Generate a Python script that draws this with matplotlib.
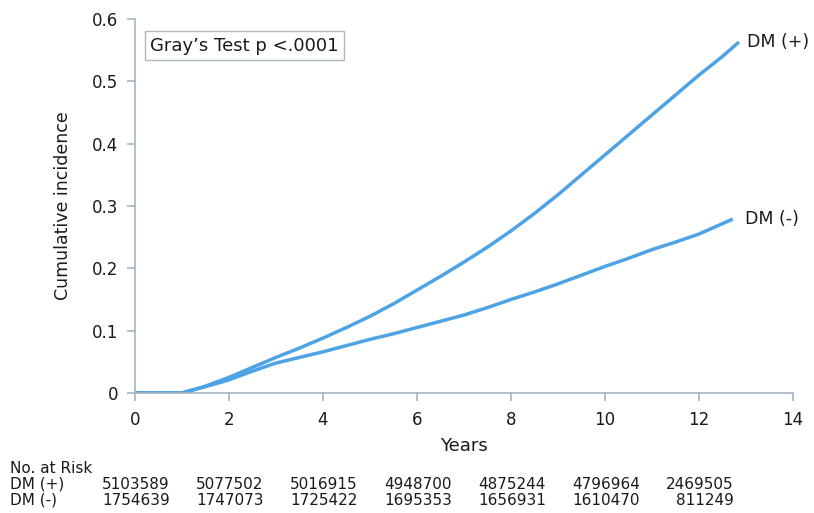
import matplotlib
matplotlib.use("Agg")
import matplotlib.pyplot as plt
import matplotlib.transforms as mtransforms

plt.rcParams['font.family'] = ['DejaVu Sans']

# cumulative incidence
years_pos = [0, 1.0, 1.5, 2, 2.5, 3, 3.5, 4, 4.5, 5, 5.5, 6, 6.5, 7, 7.5, 8,
             8.5, 9, 9.5, 10, 10.5, 11, 11.5, 12, 12.5, 12.85]
inc_pos = [0, 0, 0.011, 0.025, 0.041, 0.057, 0.072, 0.088, 0.105, 0.123,
           0.143, 0.165, 0.187, 0.21, 0.234, 0.26, 0.288, 0.318, 0.35, 0.382,
           0.414, 0.446, 0.478, 0.51, 0.54, 0.563]

years_neg = [0, 1.0, 1.5, 2, 2.5, 3, 3.5, 4, 4.5, 5, 5.5, 6, 6.5, 7, 7.5, 8,
             8.5, 9, 9.5, 10, 10.5, 11, 11.5, 12, 12.72]
inc_neg = [0, 0, 0.010, 0.021, 0.035, 0.048, 0.057, 0.066, 0.076, 0.086,
           0.095, 0.105, 0.115, 0.125, 0.137, 0.15, 0.162, 0.175, 0.189,
           0.203, 0.216, 0.23, 0.242, 0.255, 0.279]

risk_times = [0, 2, 4, 6, 8, 10, 12]
risk_pos = [5103589, 5077502, 5016915, 4948700, 4875244, 4796964, 2469505]
risk_neg = [1754639, 1747073, 1725422, 1695353, 1656931, 1610470, 811249]

line_col = '#4da3e3'
axis_col = '#a3b5c2'
text_col = '#1a1a1a'

fig = plt.figure(figsize=(8.14, 5.13), dpi=100)
ax = fig.add_axes([0.1658, 0.234, 0.8084, 0.729])

ax.plot(years_pos, inc_pos, color=line_col, lw=2.5, solid_capstyle='butt')
ax.plot(years_neg, inc_neg, color=line_col, lw=2.5, solid_capstyle='butt')

ax.text(years_pos[-1] + 0.17, inc_pos[-1], 'DM (+)', fontsize=12.5,
        color=text_col, va='center', ha='left')
ax.text(years_neg[-1] + 0.25, inc_neg[-1], 'DM (-)', fontsize=12.5,
        color=text_col, va='center', ha='left')

ax.set_xlim(0, 14)
ax.set_ylim(0, 0.6)
ax.set_xticks(range(0, 15, 2))
ax.set_yticks([0, 0.1, 0.2, 0.3, 0.4, 0.5, 0.6])
ax.set_yticklabels(['0', '0.1', '0.2', '0.3', '0.4', '0.5', '0.6'])

for s in ['top', 'right']:
    ax.spines[s].set_visible(False)
for s in ['left', 'bottom']:
    ax.spines[s].set_color(axis_col)
    ax.spines[s].set_linewidth(1.2)
ax.tick_params(colors=axis_col, labelcolor=text_col, labelsize=12,
               length=6, width=1.2, pad=6)
ax.tick_params(axis='x', pad=7)

ax.set_xlabel('Years', fontsize=13, color=text_col, labelpad=6)
ax.set_ylabel('Cumulative incidence', fontsize=12.5, color=text_col, labelpad=14)

ax.text(0.023, 0.928, u"Gray\u2019s Test p <.0001", transform=ax.transAxes,
        fontsize=13, color=text_col, va='center', ha='left',
        bbox=dict(boxstyle='square,pad=0.3', fc='white', ec='#b0b8bc', lw=1))

# number at risk table
tr = mtransforms.blended_transform_factory(ax.transData, fig.transFigure)
fig.text(0.012, 0.087, 'No. at Risk', fontsize=11, color=text_col, va='center')
fig.text(0.012, 0.056, 'DM (+)', fontsize=11, color=text_col, va='center')
fig.text(0.012, 0.025, 'DM (-)', fontsize=11, color=text_col, va='center')
for t, p, n in zip(risk_times, risk_pos, risk_neg):
    ax.text(t + 0.74, 0.056, str(p), transform=tr, fontsize=11,
            color=text_col, va='center', ha='right', clip_on=False)
    ax.text(t + 0.74, 0.025, str(n), transform=tr, fontsize=11,
            color=text_col, va='center', ha='right', clip_on=False)

fig.savefig('out.png', dpi=100)
